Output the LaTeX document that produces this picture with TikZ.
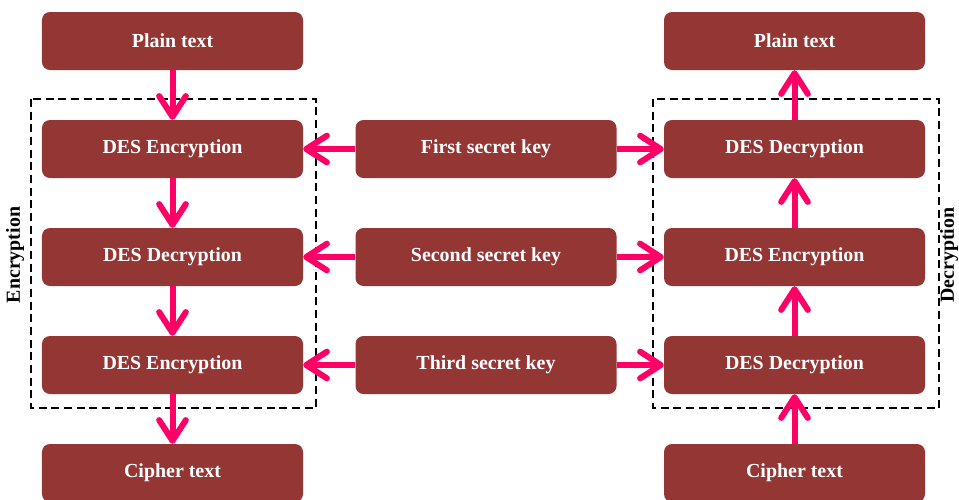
\documentclass[tikz,border=0pt]{standalone}
\usepackage{fontspec}
\setmainfont{Liberation Serif}
\usetikzlibrary{arrows.meta}
\definecolor{boxred}{HTML}{943634}
\definecolor{keypink}{HTML}{FF0066}
\begin{document}
\begin{tikzpicture}[x=0.03cm,y=-0.03cm,
    desbox/.style={fill=boxred,rounded corners=0.24cm,minimum width=7.83cm,minimum height=1.74cm,
      inner sep=0pt,text=white,font=\fontsize{17}{20}\selectfont\bfseries},
    flow/.style={keypink,line width=0.18cm,-{Straight Barb[length=0.62cm,width=0.8cm,round]}},
    group/.style={line width=0.06cm,dash pattern=on 0.24cm off 0.14cm},
    side/.style={rotate=90,font=\fontsize{17}{20}\selectfont\bfseries}]
  \useasboundingbox (0,0) rectangle (959,499);
  % encryption side
  \node[desbox] (plainL) at (172.5,41) {Plain text};
  \node[desbox] (encL1) at (172.5,149) {DES Encryption};
  \node[desbox] (decL) at (172.5,257) {DES Decryption};
  \node[desbox] (encL2) at (172.5,365) {DES Encryption};
  \node[desbox] (cipherL) at (172.5,473) {Cipher text};
  % keys
  \node[desbox] (key1) at (486,149) {First secret key};
  \node[desbox] (key2) at (486,257) {Second secret key};
  \node[desbox] (key3) at (486,365) {Third secret key};
  % decryption side
  \node[desbox] (plainR) at (794.5,41) {Plain text};
  \node[desbox] (decR1) at (794.5,149) {DES Decryption};
  \node[desbox] (encR) at (794.5,257) {DES Encryption};
  \node[desbox] (decR2) at (794.5,365) {DES Decryption};
  \node[desbox] (cipherR) at (794.5,473) {Cipher text};
  % groups
  \draw[group] (31,99) rectangle (316,408);
  \draw[group] (653,99) rectangle (939,408);
  \node[side] (enclabel) at (15,255) {Encryption};
  \node[side] (declabel) at (949,255) {Decryption};
  % arrows
  \draw[flow] (plainL) -- (encL1);
  \draw[flow] (encL1) -- (decL);
  \draw[flow] (decL) -- (encL2);
  \draw[flow] (encL2) -- (cipherL);
  \draw[flow] (cipherR) -- (decR2);
  \draw[flow] (decR2) -- (encR);
  \draw[flow] (encR) -- (decR1);
  \draw[flow] (decR1) -- (plainR);
  \draw[flow] (key1) -- (encL1);
  \draw[flow] (key1) -- (decR1);
  \draw[flow] (key2) -- (decL);
  \draw[flow] (key2) -- (encR);
  \draw[flow] (key3) -- (encL2);
  \draw[flow] (key3) -- (decR2);
\end{tikzpicture}
\end{document}
